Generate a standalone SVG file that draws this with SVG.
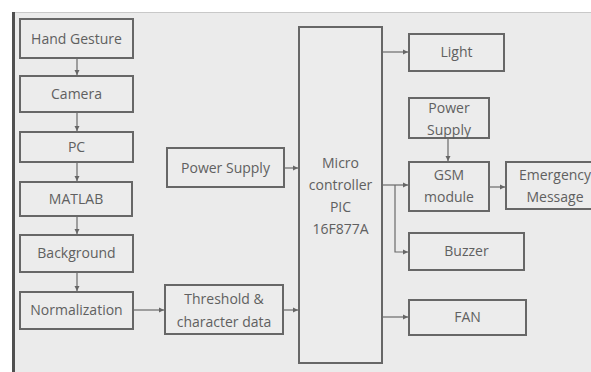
<svg xmlns="http://www.w3.org/2000/svg" width="591" height="372" viewBox="0 0 591 372">
<defs>
<marker id="ah" markerWidth="6" markerHeight="6" refX="5" refY="3" orient="auto" markerUnits="userSpaceOnUse">
<path d="M0,0.5 L5,3 L0,5.5 Z" fill="#666"/>
</marker>
<style>
.box{fill:#ececec;stroke:#676767;stroke-width:2}
.t{font-family:"Open Sans","Liberation Sans",sans-serif;font-size:14px;fill:#606060;text-anchor:middle}
.c{fill:none;stroke:#6a6a6a;stroke-width:1.2}
</style>
</defs>
<rect x="0" y="0" width="591" height="372" fill="#ffffff"/>
<rect x="12" y="12" width="579" height="360" fill="#ebebeb"/>
<line x1="12" y1="12.5" x2="591" y2="12.5" stroke="#c8c8c8" stroke-width="1"/>
<rect x="12" y="12" width="3" height="360" fill="#505050"/>

<g id="hand-gesture"><rect class="box" x="20" y="19" width="113" height="39"/><text class="t" x="76.5" y="44">Hand Gesture</text></g>
<g id="camera"><rect class="box" x="20" y="76" width="113" height="36"/><text class="t" x="76.5" y="99">Camera</text></g>
<g id="pc"><rect class="box" x="20" y="132" width="113" height="30"/><text class="t" x="76.5" y="152">PC</text></g>
<g id="matlab"><rect class="box" x="20" y="182" width="112" height="34"/><text class="t" x="76" y="204">MATLAB</text></g>
<g id="background"><rect class="box" x="20" y="235" width="113" height="37"/><text class="t" x="76.5" y="258">Background</text></g>
<g id="normalization"><rect class="box" x="20" y="292" width="113" height="37"/><text class="t" x="76.5" y="315">Normalization</text></g>
<g id="power-supply-left"><rect class="box" x="167" y="148" width="117" height="39"/><text class="t" x="225.5" y="173">Power Supply</text></g>
<g id="threshold"><rect class="box" x="165" y="285" width="118" height="49"/><text class="t" x="224" y="304">Threshold &amp;</text><text class="t" x="224" y="327">character data</text></g>
<g id="microcontroller"><rect class="box" x="299" y="27" width="83" height="336"/><text class="t" x="340.5" y="168">Micro</text><text class="t" x="340.5" y="190">controller</text><text class="t" x="340.5" y="212">PIC</text><text class="t" x="340.5" y="234">16F877A</text></g>
<g id="light"><rect class="box" x="409" y="34" width="95" height="37"/><text class="t" x="456.5" y="57">Light</text></g>
<g id="power-supply-right"><rect class="box" x="409" y="98" width="80" height="40"/><text class="t" x="449" y="113">Power</text><text class="t" x="449" y="135">Supply</text></g>
<g id="gsm"><rect class="box" x="409" y="162" width="80" height="49"/><text class="t" x="449" y="180">GSM</text><text class="t" x="449" y="202">module</text></g>
<g id="emergency"><rect class="box" x="506" y="162" width="95" height="47"/><text class="t" x="555" y="180">Emergency</text><text class="t" x="555" y="202">Message</text></g>
<g id="buzzer"><rect class="box" x="409" y="233" width="115" height="37"/><text class="t" x="466.5" y="256">Buzzer</text></g>
<g id="fan"><rect class="box" x="409" y="300" width="117" height="35"/><text class="t" x="467.5" y="322">FAN</text></g>

<g id="connectors">
<line class="c" x1="77" y1="58" x2="77" y2="75" marker-end="url(#ah)"/>
<line class="c" x1="77" y1="112" x2="77" y2="131" marker-end="url(#ah)"/>
<line class="c" x1="77" y1="162" x2="77" y2="181" marker-end="url(#ah)"/>
<line class="c" x1="77" y1="216" x2="77" y2="234" marker-end="url(#ah)"/>
<line class="c" x1="77" y1="272" x2="77" y2="291" marker-end="url(#ah)"/>
<line class="c" x1="133" y1="310" x2="164" y2="310" marker-end="url(#ah)"/>
<line class="c" x1="283" y1="310" x2="298" y2="310" marker-end="url(#ah)"/>
<line class="c" x1="284" y1="168" x2="298" y2="168" marker-end="url(#ah)"/>
<line class="c" x1="382" y1="52" x2="408" y2="52" marker-end="url(#ah)"/>
<line class="c" x1="382" y1="185" x2="408" y2="185" marker-end="url(#ah)"/>
<polyline class="c" points="395,185 395,252 408,252" marker-end="url(#ah)"/>
<line class="c" x1="448" y1="138" x2="448" y2="161" marker-end="url(#ah)"/>
<line class="c" x1="489" y1="187" x2="505" y2="187" marker-end="url(#ah)"/>
<line class="c" x1="382" y1="317" x2="408" y2="317" marker-end="url(#ah)"/>
</g>
</svg>
